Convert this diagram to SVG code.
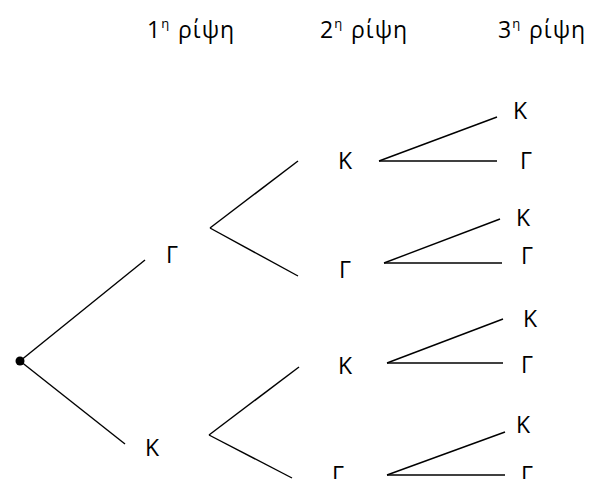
<svg xmlns="http://www.w3.org/2000/svg" width="590" height="479" viewBox="0 0 590 479">
<style>
text{font-family:"Open Sans","Liberation Sans",sans-serif;font-size:23px;fill:#000}
.h{letter-spacing:1px}
.sup{font-size:13px}
line{stroke:#000;stroke-width:1.4}
</style>
<rect width="590" height="479" fill="#fff"/>
<g id="headers">
<text class="h" x="147" y="38">1<tspan class="sup" dy="-10">η</tspan><tspan x="178" dy="10">ρίψη</tspan></text>
<text class="h" x="320" y="38">2<tspan class="sup" dy="-10">η</tspan><tspan x="351" dy="10">ρίψη</tspan></text>
<text class="h" x="498" y="38">3<tspan class="sup" dy="-10">η</tspan><tspan x="529" dy="10">ρίψη</tspan></text>
</g>
<g id="connectors">
<line x1="20" y1="361" x2="145" y2="260"/>
<line x1="20" y1="361" x2="125" y2="444"/>
<line x1="210" y1="228" x2="298" y2="161"/>
<line x1="210" y1="228" x2="298" y2="276"/>
<line x1="209" y1="435" x2="299" y2="367"/>
<line x1="209" y1="435" x2="292" y2="478"/>
<line x1="379" y1="161" x2="497" y2="117"/>
<line x1="379" y1="161" x2="497" y2="161"/>
<line x1="384" y1="263" x2="500" y2="219"/>
<line x1="384" y1="263" x2="502" y2="263"/>
<line x1="387" y1="363" x2="503" y2="319"/>
<line x1="387" y1="363" x2="503" y2="363"/>
<line x1="387" y1="475" x2="505" y2="432"/>
<line x1="387" y1="475" x2="505" y2="475"/>
</g>
<g id="root"><circle cx="20" cy="361" r="4.5" fill="#000"/></g>
<g id="n1G"><text x="166" y="263">Γ</text></g>
<g id="n1K"><text x="145" y="456">Κ</text></g>
<g id="n2K1"><text x="338" y="169">Κ</text></g>
<g id="n2G1"><text x="339" y="278">Γ</text></g>
<g id="n2K2"><text x="338" y="374">Κ</text></g>
<g id="n2G2"><text x="332" y="483">Γ</text></g>
<g id="n3K1"><text x="513" y="119">Κ</text></g>
<g id="n3G1"><text x="520" y="169">Γ</text></g>
<g id="n3K2"><text x="516" y="226">Κ</text></g>
<g id="n3G2"><text x="521" y="264">Γ</text></g>
<g id="n3K3"><text x="523" y="327">Κ</text></g>
<g id="n3G3"><text x="521" y="373">Γ</text></g>
<g id="n3K4"><text x="516" y="433">Κ</text></g>
<g id="n3G4"><text x="521" y="483">Γ</text></g>
</svg>
